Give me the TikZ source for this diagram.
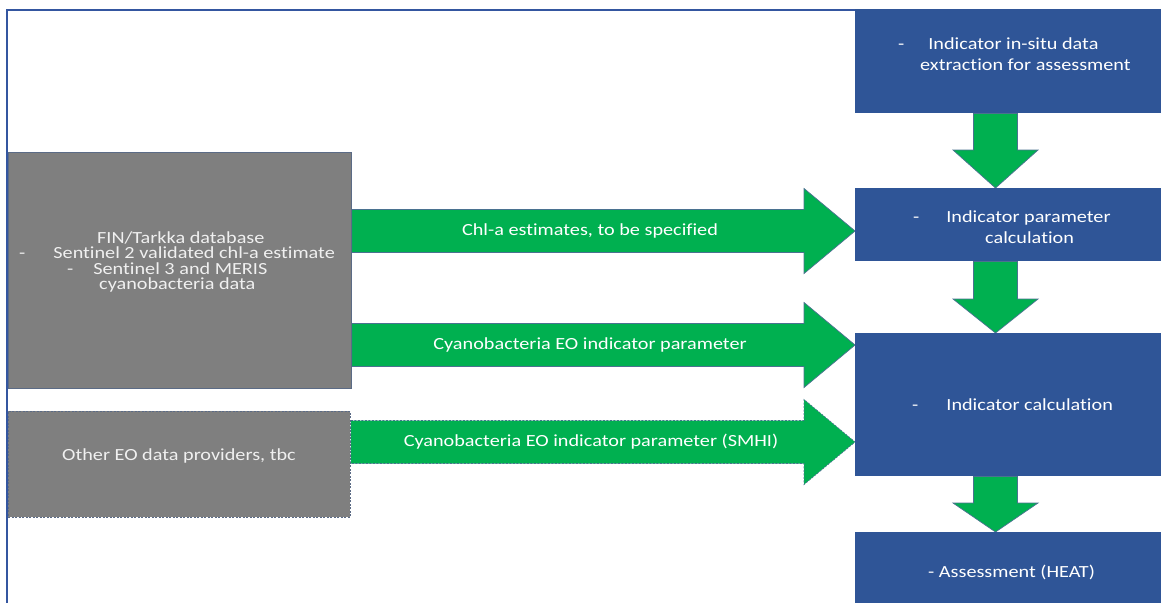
\documentclass[tikz,border=0pt]{standalone}
\usepackage{fontspec}
\setmainfont{Carlito}[FakeStretch=1.19,RawFeature=-liga]
\usetikzlibrary{calc}
\pgfdeclarelayer{background}
\pgfsetlayers{background,main}
\definecolor{boxblue}{HTML}{2F5597}
\definecolor{frameblue}{HTML}{3456A0}
\definecolor{boxgray}{HTML}{7F7F7F}
\definecolor{grayedge}{HTML}{5B6B86}
\definecolor{arrowgreen}{HTML}{00B050}
\definecolor{arrowedge}{HTML}{4A7290}
\definecolor{paletext}{HTML}{F0F0F0}

\begin{document}
\begin{tikzpicture}[x=1pt,y=-1pt,
  bluebox/.style={rectangle,fill=boxblue,anchor=north west,inner sep=0pt,minimum width=330pt},
  graybox/.style={rectangle,draw=grayedge,line width=0.8pt,fill=boxgray,anchor=north west,inner sep=0pt},
  dashedge/.style={dash pattern=on 2pt off 1.5pt},
  bluetext/.style={anchor=west,align=left,text=white,inner sep=0pt,font=\fontsize{17}{21}\selectfont},
  graytext/.style={anchor=west,align=left,text=paletext,inner sep=0pt,font=\fontsize{17}{15.6}\selectfont},
  arrowtext/.style={text=white,inner sep=0pt,font=\fontsize{17}{18}\selectfont},
  arrowfill/.style={fill=arrowgreen,draw=arrowedge,line width=0.7pt,line join=miter},
  frame/.style={draw=frameblue,line width=2pt},
  % block arrow pointing right: shaft from the start, head ending at the target
  rightblock/.style={arrowfill,to path={let \p1=(\tikztostart),\p2=(\tikztotarget) in
    (\x1,\y1+21.5pt) -- (\x2-51pt,\y1+21.5pt) -- (\x2-51pt,\y2+42.5pt) -- (\x2,\y2)
    -- (\x2-51pt,\y2-42.5pt) -- (\x2-51pt,\y1-21.5pt) -- (\x1,\y1-21.5pt) -- cycle}},
  % block arrow pointing down; the argument is the length of its head
  downblock/.style={arrowfill,to path={let \p1=(\tikztostart),\p2=(\tikztotarget) in
    (\x1-22pt,\y1) -- (\x1-22pt,\y2+#1pt) -- (\x2-42.5pt,\y2+#1pt) -- (\x2,\y2)
    -- (\x2+42.5pt,\y2+#1pt) -- (\x1+22pt,\y2+#1pt) -- (\x1+22pt,\y1) -- cycle}}
]
\useasboundingbox (0,0) rectangle (1161,602);
\clip (0,0) rectangle (1161,602);
\begin{pgfonlayer}{background}
  \fill[white] (0,0) rectangle (1161,602);
\end{pgfonlayer}

% process column
\node[bluebox,minimum height=104pt] (extract) at (855,9) {};
\node[bluebox,minimum height=73pt]  (param)   at (855,188) {};
\node[bluebox,minimum height=143pt] (calc)    at (855,333) {};
\node[bluebox,minimum height=80pt]  (heat)    at (855,532) {};

\node[bluetext] (extract-txt) at (898,54)
  {-\hspace*{24pt}Indicator in-situ data\\\hspace*{22pt}extraction for assessment};
\node[bluetext] (param-txt) at (913,227)
  {-\hspace*{27pt}Indicator parameter\\\hspace*{72pt}calculation};
\node[bluetext] (calc-txt) at (912,405) {-\hspace*{28pt}Indicator calculation};
\node[bluetext] (heat-txt) at (928,572) {- Assessment (HEAT)};

% data sources
\node[graybox,minimum width=343pt,minimum height=236pt] (fin) at (8,152) {};
\node[graybox,dashedge,minimum width=342pt,minimum height=106pt] (other) at (8,411) {};

\node[graytext] (fin-txt) at (19,262)
  {\hspace*{78pt}FIN/Tarkka database\\
   -\hspace*{28pt}Sentinel 2 validated chl-a estimate\\
   \hspace*{48pt}-\hspace*{20pt}Sentinel 3 and MERIS\\
   \hspace*{80pt}cyanobacteria data};
\node[graytext] (other-txt) at (62,456) {Other EO data providers, tbc};

% frame lines
\coordinate (fr-top) at (7,10);
\coordinate (fr-bot) at (7,604);
\draw[frame] (fr-bot) -- (fr-top) -- (fr-top -| extract.west);

% connectors, kept behind the boxes
\coordinate (colx) at (995.5,0);
\coordinate (row1) at (0,231);
\coordinate (row2) at (0,345);
\coordinate (row3) at (0,442);
\begin{pgfonlayer}{background}
  \draw[downblock=38] (extract.south -| colx) to (param.north -| colx);
  \draw[downblock=34] (param.south -| colx) to (calc.north -| colx);
  \draw[downblock=29] (calc.south -| colx) to (heat.north -| colx);
  \draw[rightblock] (fin.east |- row1) to (param.west |- row1);
  \draw[rightblock] (fin.east |- row2) to (calc.west |- row2);
  \draw[rightblock,dashedge] (other.east |- row3) to (calc.west |- row3);
\end{pgfonlayer}

\node[arrowtext] (chl-txt)  at (590,231) {Chl-a estimates, to be specified};
\node[arrowtext] (cyan-txt) at (590,345) {Cyanobacteria EO indicator parameter};
\node[arrowtext] (smhi-txt) at (591,442) {Cyanobacteria EO indicator parameter (SMHI)};
\end{tikzpicture}
\end{document}
